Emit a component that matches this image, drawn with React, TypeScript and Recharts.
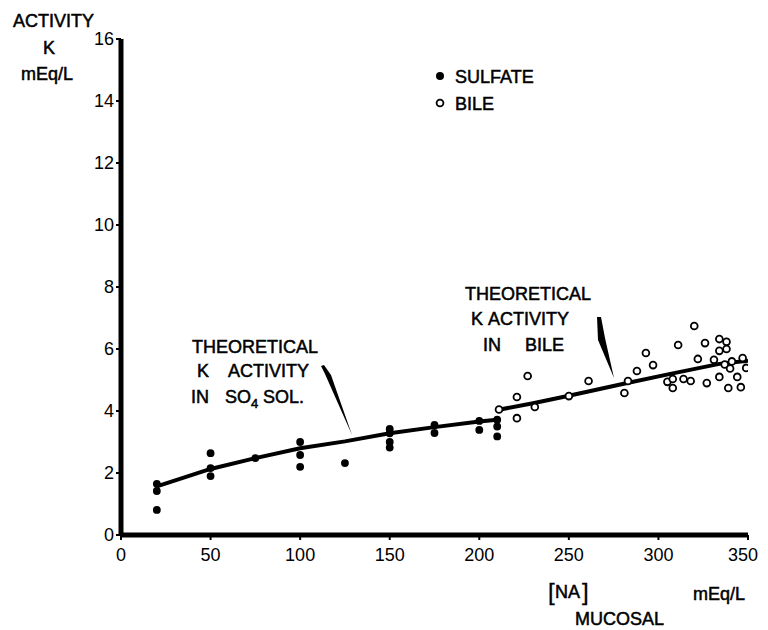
import React from "react";
import { ComposedChart, Scatter, XAxis, YAxis } from "recharts";

// [NA] mucosal (mEq/L) vs K activity (mEq/L)
const sulfateX = [20, 20, 20, 50, 50, 50, 75, 100, 100, 100, 125, 150, 150, 150, 150, 175, 175, 200, 200, 210, 210, 210];
const sulfateY = [1.65, 1.42, 0.81, 2.64, 2.16, 1.9, 2.48, 3.0, 2.58, 2.2, 2.32, 3.42, 3.28, 3.0, 2.82, 3.55, 3.29, 3.68, 3.39, 3.72, 3.5, 3.18];

const bileX = [211, 221, 221, 227, 231, 250, 261, 281, 283, 288, 293, 297, 305, 308, 308, 314, 318, 327, 311, 320, 322, 326, 334, 338, 334, 338, 331, 337, 341, 347, 340, 349, 334, 339, 344, 346];
const bileY = [4.05, 4.45, 3.77, 5.13, 4.13, 4.48, 4.97, 4.58, 4.97, 5.29, 5.87, 5.48, 4.94, 5.03, 4.74, 5.03, 4.97, 4.9, 6.13, 6.74, 5.68, 6.19, 6.32, 6.23, 5.94, 6.0, 5.65, 5.5, 5.6, 5.71, 5.37, 5.39, 5.1, 4.74, 5.1, 4.77];

// theoretical K activity curves
const so4CurveX = [20, 50, 75, 100, 125, 150, 175, 200, 210];
const so4CurveY = [1.57, 2.13, 2.48, 2.8, 3.02, 3.28, 3.48, 3.66, 3.72];
const bileCurveX = [210, 230, 250, 280, 306, 334, 350];
const bileCurveY = [4.03, 4.25, 4.49, 4.87, 5.19, 5.52, 5.62];

const xTicks = [0, 50, 100, 150, 200, 250, 300, 350];
const yTicks = [0, 2, 4, 6, 8, 10, 12, 14, 16];

const zip = (xs: number[], ys: number[]) => xs.map((x, i) => ({ x, y: ys[i] }));
const sulfate = zip(sulfateX, sulfateY);
const bile = zip(bileX, bileY);
const so4Curve = zip(so4CurveX, so4CurveY);
const bileCurve = zip(bileCurveX, bileCurveY);

const FONT = "'Liberation Sans', Arial, sans-serif";
const W = 752;
const H = 622;

const txt = { fontFamily: FONT, fontSize: 18, fill: "#000", stroke: "#000", strokeWidth: 0.5 };

const Filled = (p: any) => <circle cx={p.cx} cy={p.cy} r={3.9} fill="#000" />;
const Open = (p: any) => (
  <circle cx={p.cx} cy={p.cy} r={3.4} fill="#fff" stroke="#000" strokeWidth={1.8} />
);
const NoDot = () => <g />;

// last label sits against the right edge, nudge it in a little
const XTick = (p: any) => {
  const v = p.payload.value;
  const dx = v === 350 ? -5 : 0;
  return (
    <text x={p.x + dx} y={p.y} dy="0.71em" textAnchor="middle" fontFamily={FONT} fontSize={18} fill="#000">
      {v}
    </text>
  );
};

// overlay text is placed in page pixels, shifted by the body margin
function Overlay() {
  const o = 8;
  return (
    <svg width={W} height={H} style={{ position: "absolute", left: 0, top: 0, pointerEvents: "none" }}>
      <g transform={`translate(${-o},${-o})`}>
        {/* y axis title */}
        <text x={13} y={27} {...txt}>ACTIVITY</text>
        <text x={43} y={54} {...txt}>K</text>
        <text x={21} y={80} {...txt}>mEq/L</text>

        {/* legend */}
        <circle cx={440} cy={76} r={4} fill="#000" />
        <text x={455} y={83} {...txt}>SULFATE</text>
        <circle cx={440} cy={103} r={3.4} fill="#fff" stroke="#000" strokeWidth={1.8} />
        <text x={455} y={110} {...txt}>BILE</text>

        {/* SO4 annotation */}
        <text x={192} y={353} {...txt}>THEORETICAL</text>
        <text x={197} y={377} {...txt}>K</text>
        <text x={228} y={377} {...txt}>ACTIVITY</text>
        <text x={191} y={403} {...txt}>IN</text>
        <text x={225} y={403} {...txt}>SO</text>
        <text x={251} y={408} {...txt} fontSize={13}>4</text>
        <text x={263} y={403} {...txt}>SOL.</text>
        <polygon points="321,366 324,365 331,375 352,435 325,374" fill="#000" />

        {/* bile annotation */}
        <text x={465} y={300} {...txt}>THEORETICAL</text>
        <text x={471} y={325} {...txt}>K</text>
        <text x={488} y={325} {...txt}>ACTIVITY</text>
        <text x={483} y={351} {...txt}>IN</text>
        <text x={525} y={351} {...txt}>BILE</text>
        <polygon points="597,317 601,317 605,338 614,378 598,340" fill="#000" />

        {/* x axis title */}
        <text x={548} y={600} {...txt} fontSize={24} strokeWidth={0.3}>[</text>
        <text x={555} y={598} {...txt}>NA</text>
        <text x={582} y={600} {...txt} fontSize={24} strokeWidth={0.3}>]</text>
        <text x={575} y={625} {...txt}>MUCOSAL</text>
        <text x={693} y={600} {...txt}>mEq/L</text>
      </g>
    </svg>
  );
}

export default function App() {
  return (
    <div style={{ position: "relative", width: W, height: H, background: "#fff" }}>
      <ComposedChart width={W} height={H} margin={{ top: 31, right: 12, bottom: 65, left: 53 }}>
        <XAxis
          type="number"
          dataKey="x"
          domain={[0, 350]}
          ticks={xTicks}
          allowDataOverflow
          height={30}
          axisLine={{ stroke: "#000", strokeWidth: 5 }}
          tickLine={{ stroke: "#000", strokeWidth: 2 }}
          tickSize={5}
          tickMargin={8}
          tick={XTick}
        />
        <YAxis
          type="number"
          dataKey="y"
          domain={[0, 16]}
          ticks={yTicks}
          allowDataOverflow
          width={60}
          axisLine={{ stroke: "#000", strokeWidth: 5 }}
          tickLine={{ stroke: "#000", strokeWidth: 2 }}
          tickSize={5}
          tickMargin={2}
          tick={{ fontFamily: FONT, fontSize: 18, fill: "#000" }}
        />
        <Scatter
          data={so4Curve}
          line={{ stroke: "#000", strokeWidth: 4 }}
          shape={NoDot}
          isAnimationActive={false}
        />
        <Scatter
          data={bileCurve}
          line={{ stroke: "#000", strokeWidth: 4 }}
          shape={NoDot}
          isAnimationActive={false}
        />
        <Scatter data={sulfate} shape={Filled} isAnimationActive={false} />
        <Scatter data={bile} shape={Open} isAnimationActive={false} />
      </ComposedChart>
      <Overlay />
    </div>
  );
}
